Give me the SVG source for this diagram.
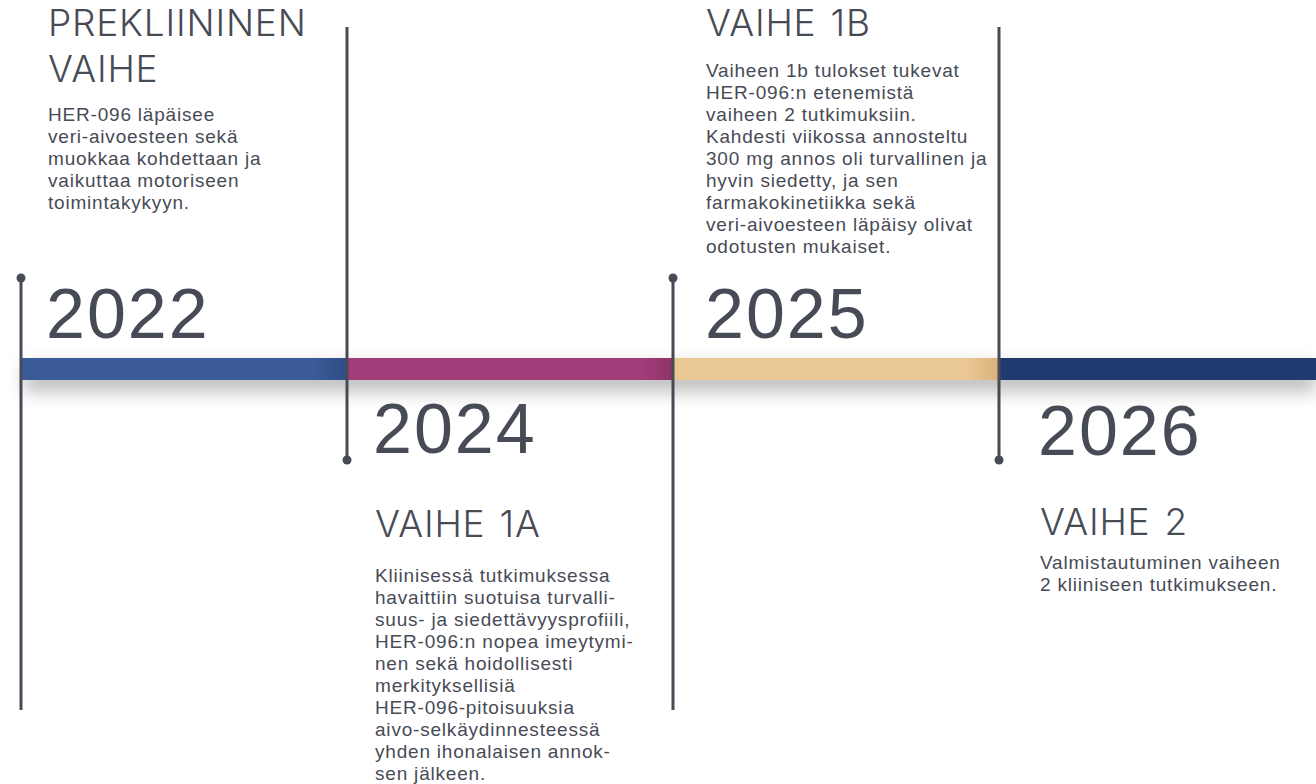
<svg xmlns="http://www.w3.org/2000/svg" width="1316" height="784" viewBox="0 0 1316 784">
<defs>
<style>
.yr{font-family:"Liberation Sans",Arial,sans-serif;font-size:70px;letter-spacing:2px;fill:#474B56;}
.hd{font-family:Inter,"Liberation Sans",sans-serif;font-weight:300;font-size:37px;letter-spacing:0.8px;word-spacing:3px;fill:#474B56;}
.bd{font-family:"Liberation Sans",Arial,sans-serif;font-size:19px;letter-spacing:0.8px;fill:#474B56;}
.vl{stroke:#474B56;stroke-width:3;fill:none;}
.dot{fill:#474B56;}
</style>
<filter id="sh" x="-5%" y="-200%" width="110%" height="500%">
<feGaussianBlur stdDeviation="9"/>
</filter>
<linearGradient id="gBlue" x1="0" x2="1" y1="0" y2="0">
<stop offset="0" stop-color="#3A5B96"/><stop offset="0.9" stop-color="#3A5B96"/><stop offset="1" stop-color="#2F4C85"/>
</linearGradient>
<linearGradient id="gMag" x1="0" x2="1" y1="0" y2="0">
<stop offset="0" stop-color="#A33D7A"/><stop offset="0.9" stop-color="#A33D7A"/><stop offset="1" stop-color="#8E3468"/>
</linearGradient>
<linearGradient id="gTan" x1="0" x2="1" y1="0" y2="0">
<stop offset="0" stop-color="#EAC894"/><stop offset="0.9" stop-color="#EAC894"/><stop offset="1" stop-color="#D9B17A"/>
</linearGradient>
</defs>
<rect width="1316" height="784" fill="#FFFFFF"/>

<g id="timeline-bar">
<rect x="24" y="366" width="1292" height="26" fill="#8A8A8A" opacity="0.55" filter="url(#sh)"/>
<rect x="20" y="358" width="327" height="22" fill="url(#gBlue)"/>
<rect x="347" y="358" width="326" height="22" fill="url(#gMag)"/>
<rect x="673" y="358" width="326" height="22" fill="url(#gTan)"/>
<rect x="999" y="358" width="317" height="22" fill="#1E3A6E"/>
</g>

<g id="connectors">
<line class="vl" x1="21" y1="278" x2="21" y2="710"/>
<circle class="dot" cx="21" cy="278" r="4.5"/>
<line class="vl" x1="347" y1="27" x2="347" y2="460"/>
<circle class="dot" cx="347" cy="460" r="4.5"/>
<line class="vl" x1="673" y1="278" x2="673" y2="710"/>
<circle class="dot" cx="673" cy="278" r="4.5"/>
<line class="vl" x1="999" y1="27" x2="999" y2="460"/>
<circle class="dot" cx="999" cy="460" r="4.5"/>
</g>

<g id="node-2022">
<text class="hd" x="48" y="36">PREKLIININEN</text>
<text class="hd" x="48" y="82">VAIHE</text>
<text class="bd" x="48" y="121">HER-096 läpäisee</text>
<text class="bd" x="48" y="143">veri-aivoesteen sekä</text>
<text class="bd" x="48" y="165">muokkaa kohdettaan ja</text>
<text class="bd" x="48" y="187">vaikuttaa motoriseen</text>
<text class="bd" x="48" y="209">toimintakykyyn.</text>
<text class="yr" x="46" y="338">2022</text>
</g>

<g id="node-2024">
<text class="yr" x="373" y="453">2024</text>
<text class="hd" x="375" y="537">VAIHE 1A</text>
<text class="bd" x="375" y="582">Kliinisessä tutkimuksessa</text>
<text class="bd" x="375" y="604">havaittiin suotuisa turvalli-</text>
<text class="bd" x="375" y="626">suus- ja siedettävyysprofiili,</text>
<text class="bd" x="375" y="648">HER-096:n nopea imeytymi-</text>
<text class="bd" x="375" y="670">nen sekä hoidollisesti</text>
<text class="bd" x="375" y="692">merkityksellisiä</text>
<text class="bd" x="375" y="714">HER-096-pitoisuuksia</text>
<text class="bd" x="375" y="736">aivo-selkäydinnesteessä</text>
<text class="bd" x="375" y="758">yhden ihonalaisen annok-</text>
<text class="bd" x="375" y="780">sen jälkeen.</text>
</g>

<g id="node-2025">
<text class="hd" x="706" y="36">VAIHE 1B</text>
<text class="bd" x="706" y="77">Vaiheen 1b tulokset tukevat</text>
<text class="bd" x="706" y="99">HER-096:n etenemistä</text>
<text class="bd" x="706" y="121">vaiheen 2 tutkimuksiin.</text>
<text class="bd" x="706" y="143">Kahdesti viikossa annosteltu</text>
<text class="bd" x="706" y="165">300 mg annos oli turvallinen ja</text>
<text class="bd" x="706" y="187">hyvin siedetty, ja sen</text>
<text class="bd" x="706" y="209">farmakokinetiikka sekä</text>
<text class="bd" x="706" y="231">veri-aivoesteen läpäisy olivat</text>
<text class="bd" x="706" y="253">odotusten mukaiset.</text>
<text class="yr" x="705" y="338">2025</text>
</g>

<g id="node-2026">
<text class="yr" x="1038" y="455">2026</text>
<text class="hd" x="1040" y="535">VAIHE 2</text>
<text class="bd" x="1040" y="569">Valmistautuminen vaiheen</text>
<text class="bd" x="1040" y="591">2 kliiniseen tutkimukseen.</text>
</g>
</svg>
